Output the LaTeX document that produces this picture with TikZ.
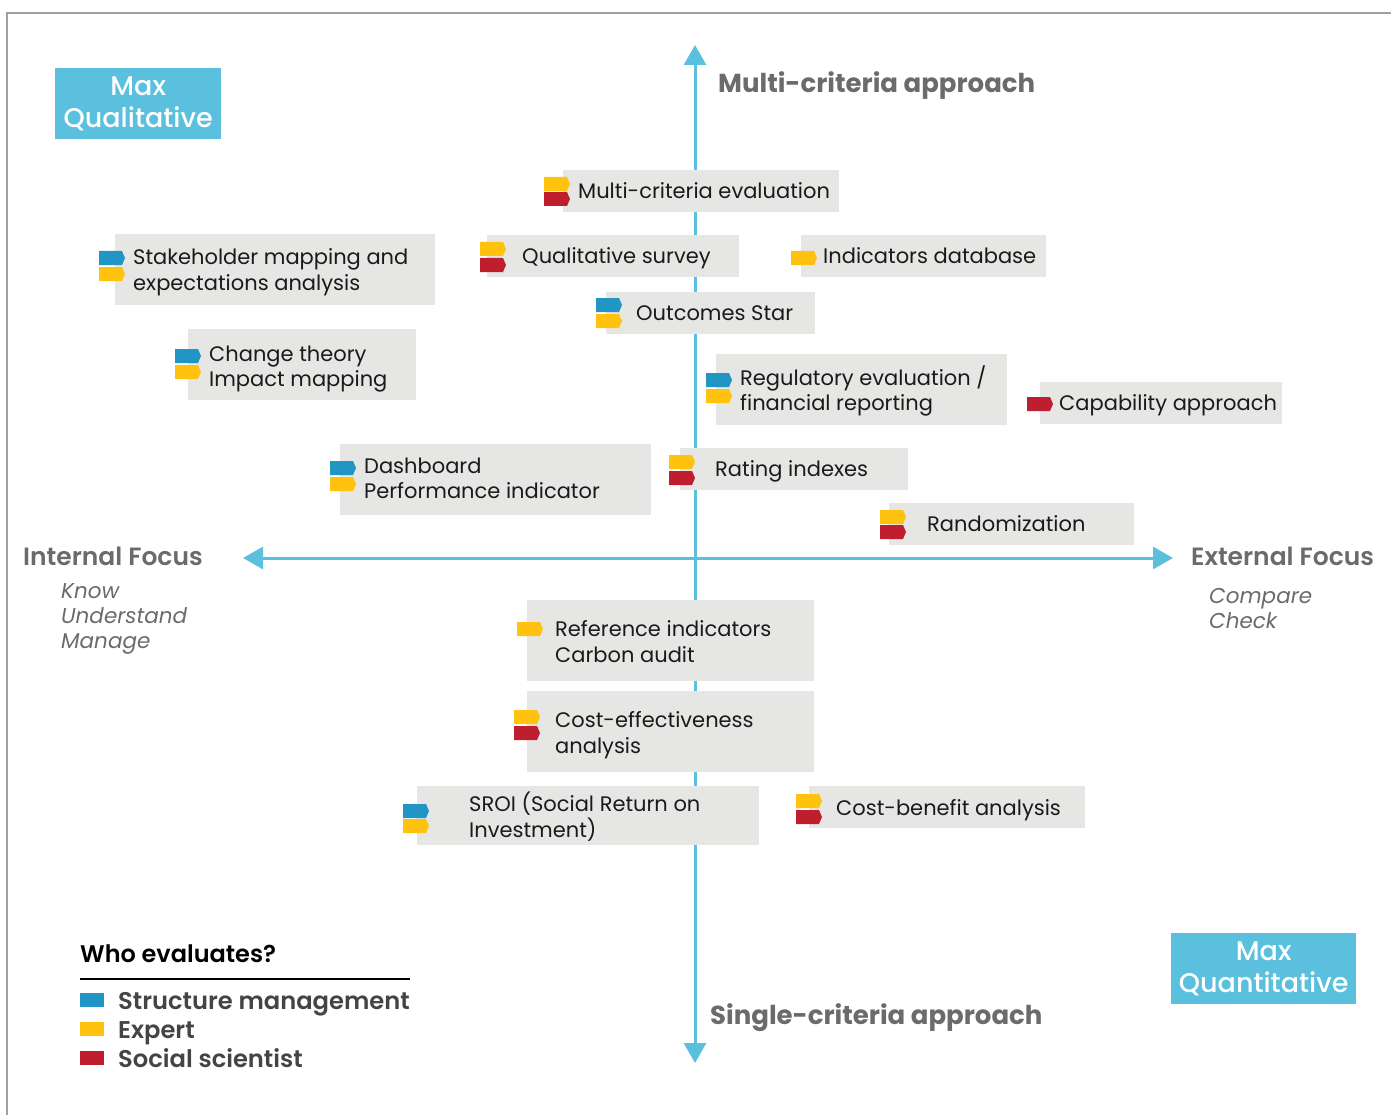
\documentclass[tikz,border=0pt]{standalone}
\usepackage{fontspec}
\setmainfont{Poppins}
\newfontfamily\popsemi{Poppins SemiBold}
\newfontfamily\popmed{Poppins Medium}
\usetikzlibrary{arrows.meta}
\definecolor{axisblue}{HTML}{5BC0DE}
\definecolor{fblue}{HTML}{2196C4}
\definecolor{fyellow}{HTML}{FFC20E}
\definecolor{fred}{HTML}{BE1E2D}
\definecolor{boxgray}{HTML}{E6E7E5}
\definecolor{labgray}{HTML}{6B6B6B}
\definecolor{leggray}{HTML}{444444}
\definecolor{framegray}{HTML}{A0A0A0}
\definecolor{txtblack}{HTML}{1A1A1A}
\begin{document}
\begin{tikzpicture}[x=1pt,y=-1pt,
  gbox/.style={fill=boxgray, draw=none, anchor=north west, inner sep=0},
  txt/.style={anchor=base west, inner sep=0, text=txtblack, font=\fontsize{21}{26}\selectfont},
  axislab/.style={anchor=base west, inner sep=0, text=labgray, font=\fontsize{26}{30}\selectfont\bfseries},
  focuslab/.style={anchor=base west, inner sep=0, text=labgray, font=\popsemi\fontsize{25}{28}\selectfont},
  sublab/.style={anchor=base west, inner sep=0, text=labgray, font=\fontsize{21.5}{24}\selectfont\itshape},
  maxbox/.style={fill=axisblue, anchor=north west, inner sep=0, text=white, align=center, font=\popmed\fontsize{27}{32}\selectfont},
  legtxt/.style={anchor=base west, inner sep=0, text=leggray, font=\popsemi\fontsize{24.2}{26}\selectfont},
  axis/.style={draw=axisblue, line width=3pt, {Triangle[width=22pt,length=20pt]}-{Triangle[width=22pt,length=20pt]}},
  evalflag/.pic={\path[pic actions] (0,0) -- (23,0) -- (26,7) -- (23,14) -- (0,14) -- cycle;}
]
\useasboundingbox (0,0) rectangle (1391,1115);
% frame
\draw[framegray, line width=1.5pt] (7,1115) -- (7,13) -- (1391,13);

% axes
\coordinate (top) at (695,45);
\coordinate (bot) at (695,1063);
\coordinate (lft) at (243,558);
\coordinate (rgt) at (1173,558);
\draw[axis] (bot) -- (top);
\draw[axis] (lft) -- (rgt);

% axis labels
\node[axislab] (multi) at (718,92.5) {Multi-criteria approach};
\node[axislab] (single) at (710,1024.5) {Single-criteria approach};
\node[focuslab] (intf) at (23,565.5) {Internal Focus};
\node[focuslab] (extf) at (1191,565.5) {External Focus};
\node[sublab] (know) at (61,598) {Know};
\node[sublab] (underst) at (61,623) {Understand};
\node[sublab] (manage) at (61,648) {Manage};
\node[sublab] (compare) at (1209,603) {Compare};
\node[sublab] (check) at (1209,628) {Check};

% max boxes
\node[maxbox, minimum width=166, minimum height=71] (maxql) at (55,68) {Max\\Qualitative};
\node[maxbox, minimum width=185, minimum height=71] (maxqn) at (1171,933) {Max\\Quantitative};

% gray boxes
\node[gbox, minimum width=276, minimum height=42] (m1) at (563,170) {};
\node[gbox, minimum width=252, minimum height=42] (q1) at (487,235) {};
\node[gbox, minimum width=245, minimum height=42] (i1) at (801,235) {};
\node[gbox, minimum width=320, minimum height=71] (s1) at (115,234) {};
\node[gbox, minimum width=209, minimum height=42] (o1) at (606,292) {};
\node[gbox, minimum width=228, minimum height=71] (c1) at (188,329) {};
\node[gbox, minimum width=291, minimum height=71] (r1) at (716,354) {};
\node[gbox, minimum width=242, minimum height=42] (cap) at (1040,382) {};
\node[gbox, minimum width=311, minimum height=71] (d1) at (340,444) {};
\node[gbox, minimum width=228, minimum height=42] (ri) at (680,448) {};
\node[gbox, minimum width=245, minimum height=42] (ra) at (889,503) {};
\node[gbox, minimum width=287, minimum height=81] (re) at (527,600) {};
\node[gbox, minimum width=287, minimum height=81] (ce) at (527,691) {};
\node[gbox, minimum width=342, minimum height=59] (sr) at (417,786) {};
\node[gbox, minimum width=276, minimum height=42] (cb) at (809,786) {};

% flags
\pic[fill=fyellow] at (544,177) {evalflag};
\pic[fill=fred] at (544,192) {evalflag};
\pic[fill=fyellow] at (480,242) {evalflag};
\pic[fill=fred] at (480,258) {evalflag};
\pic[fill=fyellow] at (791,251) {evalflag};
\pic[fill=fblue] at (99,251) {evalflag};
\pic[fill=fyellow] at (99,267) {evalflag};
\pic[fill=fblue] at (596,298) {evalflag};
\pic[fill=fyellow] at (596,314) {evalflag};
\pic[fill=fblue] at (175,349) {evalflag};
\pic[fill=fyellow] at (175,365) {evalflag};
\pic[fill=fblue] at (706,373) {evalflag};
\pic[fill=fyellow] at (706,389) {evalflag};
\pic[fill=fred] at (1027,397) {evalflag};
\pic[fill=fblue] at (330,461) {evalflag};
\pic[fill=fyellow] at (330,477) {evalflag};
\pic[fill=fyellow] at (669,455) {evalflag};
\pic[fill=fred] at (669,471) {evalflag};
\pic[fill=fyellow] at (880,510) {evalflag};
\pic[fill=fred] at (880,525) {evalflag};
\pic[fill=fyellow] at (517,622) {evalflag};
\pic[fill=fyellow] at (514,710) {evalflag};
\pic[fill=fred] at (514,726) {evalflag};
\pic[fill=fblue] at (403,804) {evalflag};
\pic[fill=fyellow] at (403,819) {evalflag};
\pic[fill=fyellow] at (796,794) {evalflag};
\pic[fill=fred] at (796,810) {evalflag};

% texts
\node[txt] (t1) at (578,198.5) {Multi-criteria evaluation};
\node[txt] (t2) at (522,263.5) {Qualitative survey};
\node[txt] (t3) at (823,263.5) {Indicators database};
\node[txt] (t4a) at (133,264.5) {Stakeholder mapping and};
\node[txt] (t4b) at (133,290) {expectations analysis};
\node[txt] (t5) at (636,320) {Outcomes Star};
\node[txt] (t6a) at (209,361) {Change theory};
\node[txt] (t6b) at (209,386) {Impact mapping};
\node[txt] (t7a) at (740,385) {Regulatory evaluation /};
\node[txt] (t7b) at (740,410.5) {financial reporting};
\node[txt] (t8) at (1059,410) {Capability approach};
\node[txt] (t9a) at (364,473) {Dashboard};
\node[txt] (t9b) at (364,498.5) {Performance indicator};
\node[txt] (t10) at (715,476.5) {Rating indexes};
\node[txt] (t11) at (927,531.5) {Randomization};
\node[txt] (t12a) at (555,636) {Reference indicators};
\node[txt] (t12b) at (555,662) {Carbon audit};
\node[txt] (t13a) at (555,727) {Cost-effectiveness};
\node[txt] (t13b) at (555,753) {analysis};
\node[txt] (t14a) at (469,811) {SROI (Social Return on};
\node[txt] (t14b) at (469,837) {Investment)};
\node[txt] (t15) at (836,815) {Cost-benefit analysis};

% legend
\node[anchor=base west, inner sep=0, font=\popsemi\fontsize{24}{26}\selectfont] (who) at (80,962) {Who evaluates?};
\coordinate (ls) at (80,979);
\coordinate (le) at (410,979);
\draw[line width=1.2pt] (ls) -- (le);
\fill[fblue] (80,993) rectangle (104,1007);
\fill[fyellow] (80,1022) rectangle (104,1036);
\fill[fred] (80,1051) rectangle (104,1065);
\node[legtxt] (lg1) at (118,1009) {Structure management};
\node[legtxt] (lg2) at (118,1038) {Expert};
\node[legtxt] (lg3) at (118,1067) {Social scientist};
\end{tikzpicture}
\end{document}
